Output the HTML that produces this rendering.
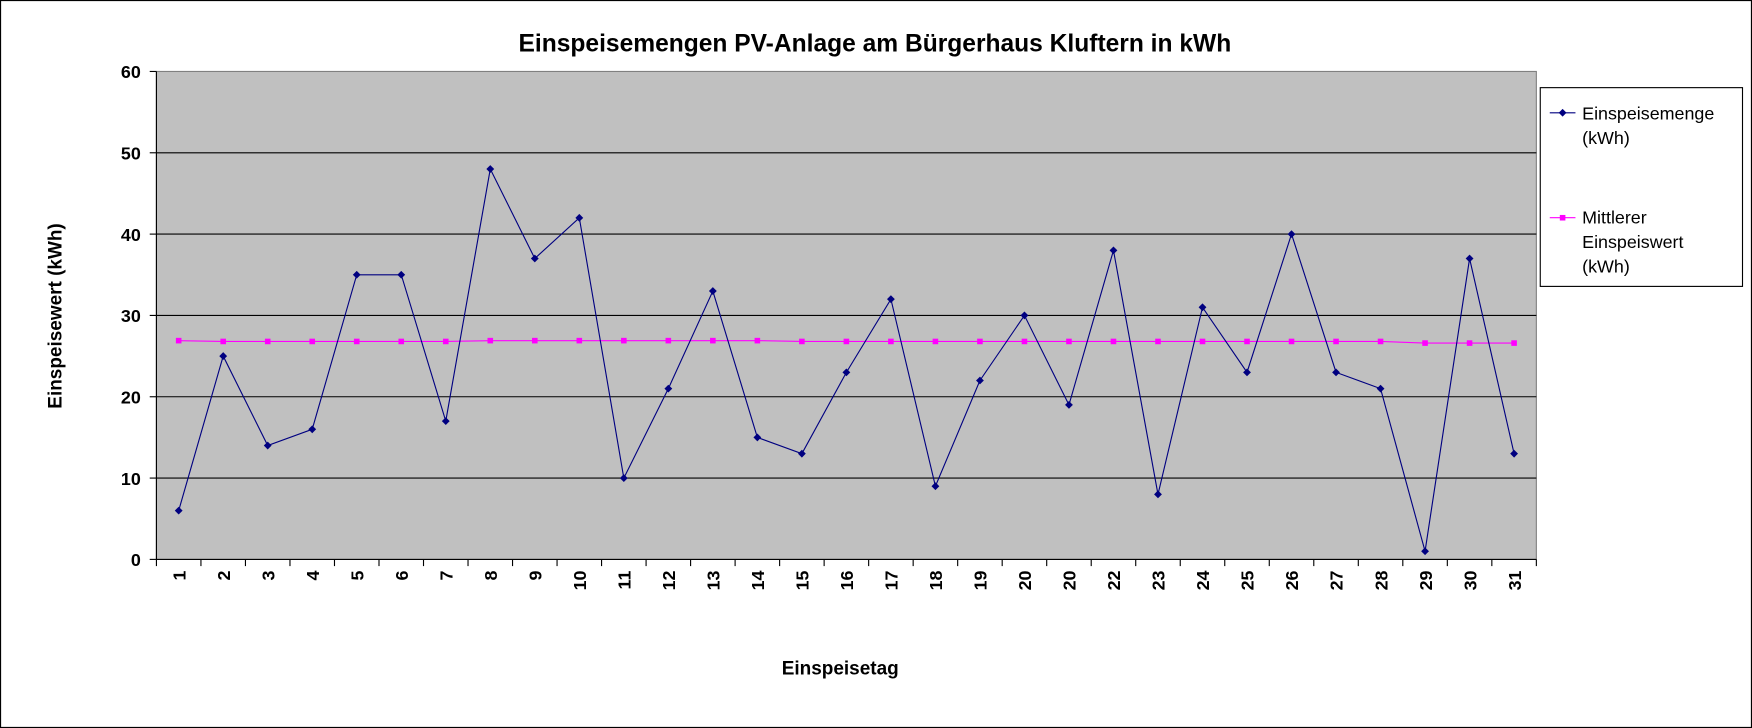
<!DOCTYPE html>
<html><head><meta charset="utf-8"><style>
html,body{margin:0;padding:0;background:#fff;}
svg{display:block;font-family:"Liberation Sans",Arial,sans-serif;}
</style></head><body>
<svg id="chart" width="1752" height="728" viewBox="0 0 1568 652" preserveAspectRatio="none">
<rect x="0.5" y="0.5" width="1567" height="651" fill="#fff" stroke="#000"/>
<text x="783" y="46" text-anchor="middle" font-size="22" font-weight="bold">Einspeisemengen PV-Anlage am Bürgerhaus Kluftern in kWh</text>
<rect x="140" y="64" width="1235" height="437" fill="#c0c0c0" stroke="#808080"/>
<g id="grid"></g><g id="yticks"></g><g id="xticks"></g><g id="series"></g>
<text transform="translate(55,283) rotate(-90)" text-anchor="middle" font-size="17" font-weight="bold">Einspeisewert (kWh)</text>
<text x="752" y="604" text-anchor="middle" font-size="17" font-weight="bold">Einspeisetag</text>
<g>
<rect x="1378.5" y="78.5" width="181" height="178" fill="#fff" stroke="#000"/>
<g>
<line x1="1387" y1="101" x2="1410" y2="101" stroke="#000080"/>
<path d="M1398.5 97.5 L1402 101 L1398.5 104.5 L1395 101Z" fill="#000080"/>
<text x="1416" y="107" font-size="16">Einspeisemenge</text>
<text x="1416" y="129" font-size="16">(kWh)</text>
</g>
<g>
<line x1="1387" y1="195" x2="1410" y2="195" stroke="#ff00ff"/>
<rect x="1396" y="192.5" width="5" height="5" fill="#ff00ff"/>
<text x="1416" y="200" font-size="16">Mittlerer</text>
<text x="1416" y="222" font-size="16">Einspeiswert</text>
<text x="1416" y="244" font-size="16">(kWh)</text>
</g>
</g>
</svg>
<script>
const days = ["1","2","3","4","5","6","7","8","9","10","11","12","13","14","15","16","17","18","19","20","20","22","23","24","25","26","27","28","29","30","31"];
const energy = [6,25,14,16,35,35,17,48,37,42,10,21,33,15,13,23,32,9,22,30,19,38,8,31,23,40,23,21,1,37,13];
const average = [26.9,26.8,26.8,26.8,26.8,26.8,26.8,26.9,26.9,26.9,26.9,26.9,26.9,26.9,26.8,26.8,26.8,26.8,26.8,26.8,26.8,26.8,26.8,26.8,26.8,26.8,26.8,26.8,26.6,26.6,26.6];
const yTicks = [0,10,20,30,40,50,60];
const NS="http://www.w3.org/2000/svg";
const X0=140,X1=1375,Y0=501,Y1=64,YMAX=60;
const bw=(X1-X0)/days.length;
function xc(i){return X0+bw*(i+0.5);}
function y(v){return Y0-(v/YMAX)*(Y0-Y1);}
function mk(tag,attrs,parent){const e=document.createElementNS(NS,tag);for(const k in attrs)e.setAttribute(k,attrs[k]);parent.appendChild(e);return e;}
const grid=document.getElementById('grid'),yt=document.getElementById('yticks'),xt=document.getElementById('xticks'),ser=document.getElementById('series');
yTicks.forEach(t=>{
  if(t>0&&t<YMAX){const l=mk('line',{x1:X0,x2:X1,y1:y(t),y2:y(t),stroke:'#000'},grid);
  
  }
  const tk=mk('line',{x1:X0-6,x2:X0,y1:y(t),y2:y(t),stroke:'#000'},yt);
  
  
  const tx=mk('text',{x:X0-14,y:y(t)+6,'text-anchor':'end','font-size':16,'font-weight':'bold'},yt);
  tx.textContent=t;
  
  
});
mk('line',{x1:X0,x2:X0,y1:Y1,y2:Y0,stroke:'#000'},yt);
mk('line',{x1:X0,x2:X1,y1:Y0,y2:Y0,stroke:'#000'},xt);
for(let i=0;i<=days.length;i++){mk('line',{x1:X0+bw*i,x2:X0+bw*i,y1:Y0,y2:Y0+6,stroke:'#000'},xt);}
days.forEach((d,i)=>{
  const tx=mk('text',{transform:`translate(${xc(i)+6},${Y0+10}) rotate(-90)`,'text-anchor':'end','font-size':16,'font-weight':'bold'},xt);
  tx.textContent=d;
  
  
});
const avgLine=mk('polyline',{points:average.map((v,i)=>xc(i)+','+y(v)).join(' '),fill:'none',stroke:'#ff00ff','stroke-width':1},ser);


average.forEach((v,i)=>{const r=mk('rect',{x:xc(i)-2.5,y:y(v)-2.5,width:5,height:5,fill:'#ff00ff'},ser);
  
  });
const eLine=mk('polyline',{points:energy.map((v,i)=>xc(i)+','+y(v)).join(' '),fill:'none',stroke:'#000080','stroke-width':1},ser);


energy.forEach((v,i)=>{const cx=xc(i),cy=y(v);
  const p=mk('path',{d:`M${cx} ${cy-3.5}L${cx+3.5} ${cy}L${cx} ${cy+3.5}L${cx-3.5} ${cy}Z`,fill:'#000080'},ser);
  
  });
</script>
</body></html>
